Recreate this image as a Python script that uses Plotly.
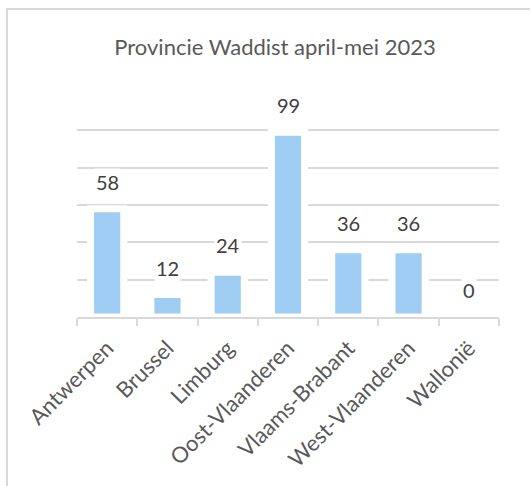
import plotly.graph_objects as go

categories = ["Antwerpen", "Brussel", "Limburg", "Oost-Vlaanderen",
              "Vlaams-Brabant", "West-Vlaanderen", "Wallonië"]
values = [58, 12, 24, 99, 36, 36, 0]
y_ticks = [0, 20, 40, 60, 80, 100, 120]
title_text = "Provincie Waddist april-mei 2023"

W, H = 530, 486
L, R, T, B = 77, 31, 93, 169
pw, ph = W - L - R, H - T - B

FONT = "Lato, Open Sans, sans-serif"

fig = go.Figure()
fig.add_trace(go.Bar(
    x=categories, y=values,
    marker=dict(color="#9ECCF3", line=dict(color="white", width=7)),
    width=0.55,
    hoverinfo="skip",
))

annotations = []
for c, v in zip(categories, values):
    annotations.append(dict(
        x=c, y=v, xref="x", yref="y", text=str(v), showarrow=False,
        yanchor="middle", yshift=27, bgcolor="white",
        font=dict(family=FONT, size=20, color="#404040"),
    ))

fig.update_layout(
    width=W, height=H,
    margin=dict(l=L, r=R, t=T, b=B, autoexpand=False),
    paper_bgcolor="white", plot_bgcolor="white",
    showlegend=False,
    title=dict(text=title_text, x=275 / W, xanchor="center",
               y=1 - 47 / H, yanchor="middle",
               font=dict(family=FONT, size=22, color="#595959")),
    xaxis=dict(
        type="category", tickangle=-45, tickson="boundaries",
        ticks="outside", ticklen=7, tickcolor="#d9d9d9", tickwidth=1.5,
        showline=True, linecolor="#d9d9d9", linewidth=1.5,
        showgrid=False, automargin=False, ticklabelstandoff=8,
        tickfont=dict(family=FONT, size=22, color="#595959"),
    ),
    yaxis=dict(
        range=[0, 120], tickvals=y_ticks, showticklabels=False,
        showgrid=True, gridcolor="#d9d9d9", gridwidth=1.5,
        zeroline=False, showline=False, ticks="", automargin=False,
    ),
    annotations=annotations,
    shapes=[dict(
        type="rect", xref="paper", yref="paper",
        x0=(7 - L) / pw, x1=(W + 20 - L) / pw,
        y0=-(H + 20 - (T + ph)) / ph, y1=(T + ph - 9) / ph,
        line=dict(color="#d9d9d9", width=2), fillcolor="rgba(0,0,0,0)",
        layer="below",
    )],
)

fig.write_html("out.html",
               config={"displayModeBar": False},
               post_script="document.body.style.margin='0';document.body.style.overflow='hidden';")
